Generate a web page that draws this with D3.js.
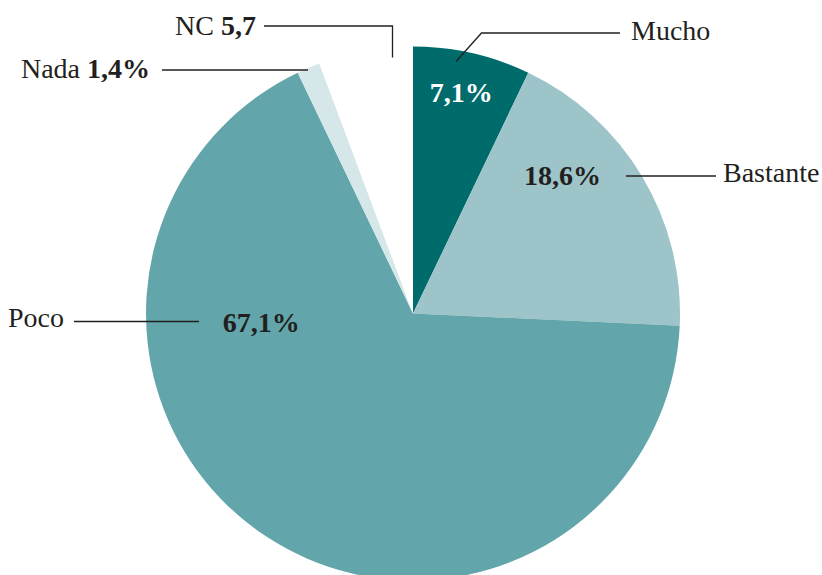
<!DOCTYPE html>
<html>
<head>
<meta charset="utf-8">
<script src="https://cdn.jsdelivr.net/npm/d3@7"></script>
<style>
  html, body { margin: 0; padding: 0; background: #fff; }
  svg { display: block; }
  text { font-family: "Liberation Serif", "DejaVu Serif", serif; fill: #231f20; }
</style>
</head>
<body>
<svg id="chart" width="822" height="575"></svg>
<script>
// Answer categories, clockwise from 12 o'clock
const categories = ["Mucho", "Bastante", "Poco", "Nada", "NC"];
const values = [7.1, 18.6, 67.1, 1.4, 5.7];
const colors = ["#006b6b", "#9dc4c8", "#62a6ab", "#d5e7e8", "#ffffff"];
// Value label text shown inside or next to each slice
const valueLabels = ["7,1%", "18,6%", "67,1%", "1,4%", "5,7"];

const width = 822, height = 575;
const cx = 413, cy = 313.5, radius = 267;

const svg = d3.select("#chart");
const g = svg.append("g").attr("transform", `translate(${cx},${cy})`);

const pie = d3.pie().sort(null).value(d => d.value);
const arc = d3.arc().innerRadius(0).outerRadius(radius);

const data = categories.map((c, i) => ({ name: c, value: values[i], color: colors[i], label: valueLabels[i] }));
const arcs = pie(data);

g.selectAll("path.slice")
  .data(arcs)
  .join("path")
  .attr("class", "slice")
  .attr("d", arc)
  .attr("fill", d => d.data.color);

// In-slice percentage labels: [angle in degrees from 12 o'clock, distance from centre]
const inLabelPos = {
  "Mucho":    [12.3, 226],
  "Bastante": [47.4, 203],
  "Poco":     [266.5, 152]
};
const inLabelColor = { "Mucho": "#ffffff", "Bastante": "#231f20", "Poco": "#231f20" };

arcs.filter(d => inLabelPos[d.data.name]).forEach(d => {
  const [deg, r] = inLabelPos[d.data.name];
  const a = deg * Math.PI / 180;
  g.append("text")
    .attr("x", r * Math.sin(a))
    .attr("y", -r * Math.cos(a))
    .attr("dy", "0.33em")
    .attr("text-anchor", "middle")
    .attr("font-size", 28)
    .attr("font-weight", "bold")
    .style("fill", inLabelColor[d.data.name])
    .text(d.data.label);
});

// Leader lines (page coordinates)
const leaders = [
  [[456, 61.5], [481.5, 33], [620, 33]],
  [[626, 176], [716, 176]],
  [[74, 321.5], [199, 321.5]],
  [[162, 70], [308, 70]],
  [[264, 26], [392.5, 26], [392.5, 57.5]]
];
svg.selectAll("path.leader")
  .data(leaders)
  .join("path")
  .attr("class", "leader")
  .attr("d", d3.line())
  .attr("fill", "none")
  .attr("stroke", "#231f20")
  .attr("stroke-width", 1.3);

// Category labels
const fs = 28;
svg.append("text").attr("x", 631).attr("y", 39.5).attr("font-size", fs).text("Mucho");
svg.append("text").attr("x", 723).attr("y", 182).attr("font-size", fs).text("Bastante");
svg.append("text").attr("x", 64).attr("y", 326.5).attr("text-anchor", "end").attr("font-size", fs).text("Poco");

const nada = svg.append("text").attr("x", 150).attr("y", 78).attr("text-anchor", "end").attr("font-size", fs);
nada.append("tspan").text("Nada ");
nada.append("tspan").attr("font-weight", "bold").text(valueLabels[3]);

const nc = svg.append("text").attr("x", 256).attr("y", 35).attr("text-anchor", "end").attr("font-size", fs);
nc.append("tspan").text("NC ");
nc.append("tspan").attr("font-weight", "bold").text(valueLabels[4]);
</script>
</body>
</html>
